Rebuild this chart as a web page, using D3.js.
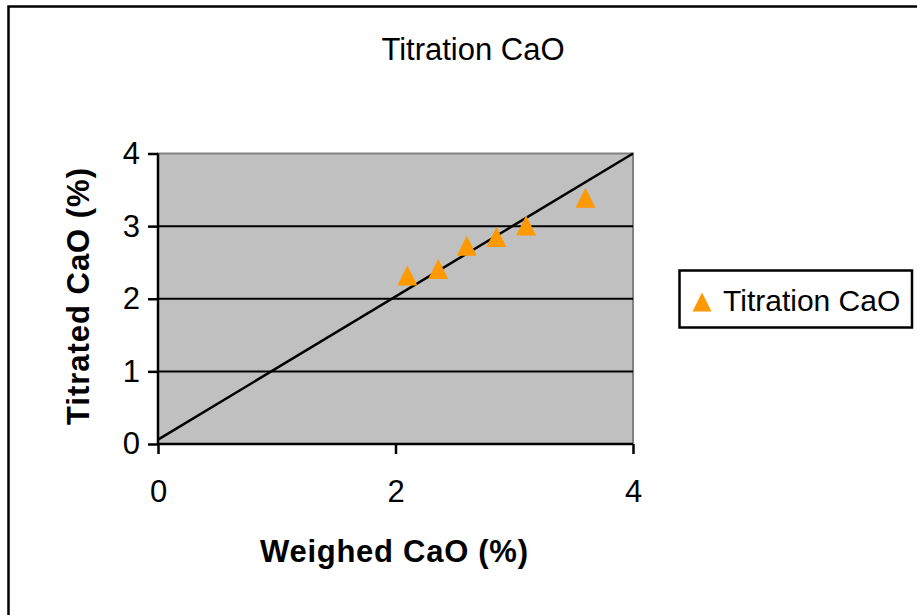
<!DOCTYPE html>
<html>
<head>
<meta charset="utf-8">
<script src="https://cdn.jsdelivr.net/npm/d3@7"></script>
<style>
  html, body { margin: 0; padding: 0; background: #fff; }
  svg { display: block; font-family: "Liberation Sans", Arial, sans-serif; }
</style>
</head>
<body>
<svg id="chart" width="917" height="615"></svg>
<script>
// Weighed vs titrated CaO (%)
const weighed = [2.10, 2.36, 2.60, 2.85, 3.10, 3.60];
const titrated = [2.32, 2.41, 2.73, 2.85, 3.01, 3.39];
// Reference line endpoints
const refX = [0, 4];
const refY = [0.06, 4.0];
const xTicks = [0, 2, 4];
const yTicks = [0, 1, 2, 3, 4];
const seriesName = "Titration CaO";

const svg = d3.select("#chart");
const W = 917, H = 615;
const plot = { left: 158, right: 633, top: 153.5, bottom: 444 };
const FONT = "Liberation Sans, Arial, sans-serif";

// Outer frame
svg.append("rect").attr("x", 8.5).attr("y", 6.5).attr("width", W + 10).attr("height", H + 10)
  .attr("fill", "#fff").attr("stroke", "#000").attr("stroke-width", 2.5);

const x = d3.scaleLinear().domain([0, 4]).range([plot.left, plot.right]);
const y = d3.scaleLinear().domain([0, 4]).range([plot.bottom, plot.top]);

// Plot area
svg.append("rect").attr("x", plot.left).attr("y", plot.top)
  .attr("width", plot.right - plot.left).attr("height", plot.bottom - plot.top)
  .attr("fill", "#c0c0c0").attr("stroke", "#808080").attr("stroke-width", 2);

// Gridlines
svg.append("g").selectAll("line").data(yTicks.filter(t => t > 0 && t < 4)).join("line")
  .attr("x1", plot.left).attr("x2", plot.right)
  .attr("y1", d => y(d)).attr("y2", d => y(d))
  .attr("stroke", "#000").attr("stroke-width", 2);

// Axes
const yAxis = svg.append("g").attr("transform", `translate(${plot.left},0)`)
  .call(d3.axisLeft(y).tickValues(yTicks).tickSize(10).tickPadding(8).tickFormat(d3.format("d")));
const xAxis = svg.append("g").attr("transform", `translate(0,${plot.bottom})`)
  .call(d3.axisBottom(x).tickValues(xTicks).tickSize(10).tickPadding(26).tickFormat(d3.format("d")));
[yAxis, xAxis].forEach(a => {
  a.select(".domain").attr("stroke", "#000").attr("stroke-width", 2.5);
  a.selectAll(".tick line").attr("stroke", "#000").attr("stroke-width", 2.5);
  a.selectAll("text").attr("font-size", 31).attr("fill", "#000").attr("font-family", FONT);
});
xAxis.select(".domain").attr("d", `M${plot.left},0H${plot.right}`);
yAxis.select(".domain").attr("d", `M0,${plot.bottom}V${plot.top}`);

// Reference line
svg.append("line")
  .attr("x1", x(refX[0])).attr("y1", y(refY[0]))
  .attr("x2", x(refX[1])).attr("y2", y(refY[1]))
  .attr("stroke", "#000").attr("stroke-width", 2.5);

// Triangle marker centred on its bounding box; size = width squared
const boxTriangle = {
  draw(ctx, size) {
    const w = Math.sqrt(size), h = w;
    ctx.moveTo(0, -h / 2);
    ctx.lineTo(w / 2, h / 2);
    ctx.lineTo(-w / 2, h / 2);
    ctx.closePath();
  }
};

// Markers
svg.append("g").selectAll("path").data(weighed.map((w, i) => [w, titrated[i]])).join("path")
  .attr("d", d3.symbol().type(boxTriangle).size(20 * 20))
  .attr("transform", d => `translate(${x(d[0])},${y(d[1])})`)
  .attr("fill", "#ff9900");

// Titles
svg.append("text").attr("x", 473).attr("y", 60).attr("text-anchor", "middle")
  .attr("font-size", 31).text("Titration CaO");
svg.append("text").attr("x", 394).attr("y", 562).attr("text-anchor", "middle")
  .attr("font-size", 31).attr("font-weight", "bold")
  .attr("textLength", 268).attr("lengthAdjust", "spacing").text("Weighed CaO (%)");
svg.append("text").attr("transform", "translate(89,296.5) rotate(-90)").attr("text-anchor", "middle")
  .attr("font-size", 31).attr("font-weight", "bold")
  .attr("textLength", 257).attr("lengthAdjust", "spacing").text("Titrated CaO (%)");

// Legend
const lg = svg.append("g");
lg.append("rect").attr("x", 679.5).attr("y", 270.5).attr("width", 232.5).attr("height", 57)
  .attr("fill", "#fff").attr("stroke", "#000").attr("stroke-width", 2.5);
lg.append("path").attr("d", d3.symbol().type(boxTriangle).size(19 * 19))
  .attr("transform", "translate(702,302)").attr("fill", "#ff9900");
lg.append("text").attr("x", 723).attr("y", 311).attr("font-size", 30).text(seriesName);
</script>
</body>
</html>
